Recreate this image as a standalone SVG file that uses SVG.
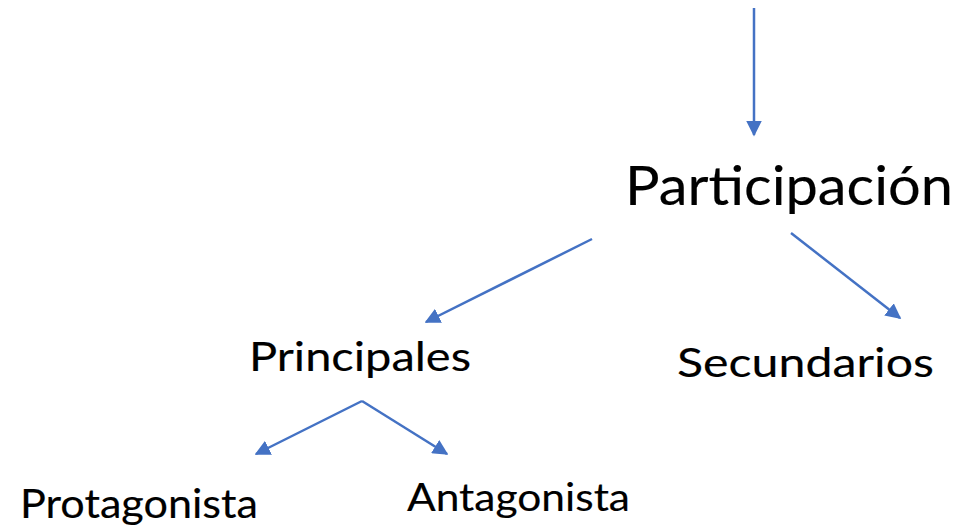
<svg xmlns="http://www.w3.org/2000/svg" width="963" height="527" viewBox="0 0 963 527">
<style>
.lbl{font-family:Lato,"Liberation Sans",sans-serif;fill:#000;stroke:#000;stroke-width:0.15}
.con line{stroke:#4472C4;stroke-width:2.5;marker-end:url(#ah)}
</style>
<defs>
<marker id="ah" viewBox="0 0 10 10" refX="9" refY="5" markerWidth="6.2" markerHeight="6.2" orient="auto" markerUnits="strokeWidth">
<path d="M0,0 L10,5 L0,10 z" fill="#4472C4"/>
</marker>
</defs>
<rect width="963" height="527" fill="#fff"/>
<g id="connectors" class="con">
<line x1="754" y1="8" x2="754" y2="135"/>
<line x1="592" y1="239" x2="426" y2="322"/>
<line x1="791" y1="233" x2="900" y2="318"/>
<line x1="362" y1="401" x2="256" y2="454"/>
<line x1="362" y1="401" x2="447" y2="454"/>
</g>
<g id="participacion"><text class="lbl" x="625" y="205" font-size="54" textLength="328" lengthAdjust="spacingAndGlyphs">Participación</text></g>
<g id="principales"><text class="lbl" x="249" y="371" font-size="40" textLength="222" lengthAdjust="spacingAndGlyphs">Principales</text></g>
<g id="secundarios"><text class="lbl" x="677" y="377" font-size="40" textLength="257" lengthAdjust="spacingAndGlyphs">Secundarios</text></g>
<g id="protagonista"><text class="lbl" x="20" y="518" font-size="40" textLength="238" lengthAdjust="spacingAndGlyphs">Protagonista</text></g>
<g id="antagonista"><text class="lbl" x="407" y="511" font-size="39" textLength="223" lengthAdjust="spacingAndGlyphs">Antagonista</text></g>
</svg>
